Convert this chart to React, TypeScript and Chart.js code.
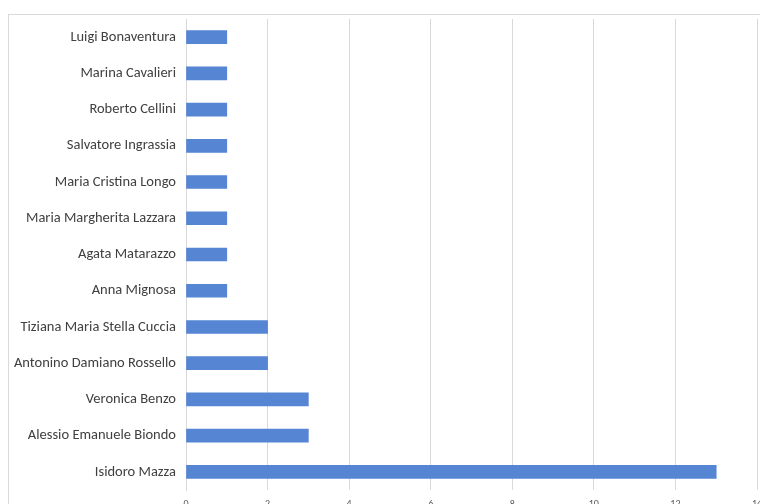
import React, { useEffect, useRef } from "react";
import { Chart, registerables } from "chart.js";

Chart.register(...registerables);

const names = [
  "Luigi Bonaventura",
  "Marina Cavalieri",
  "Roberto Cellini",
  "Salvatore Ingrassia",
  "Maria Cristina Longo",
  "Maria Margherita Lazzara",
  "Agata Matarazzo",
  "Anna Mignosa",
  "Tiziana Maria Stella Cuccia",
  "Antonino Damiano Rossello",
  "Veronica Benzo",
  "Alessio Emanuele Biondo",
  "Isidoro Mazza",
];
const counts = [1, 1, 1, 1, 1, 1, 1, 1, 2, 2, 3, 3, 13];
const xMin = 0;
const xMax = 14;
const xStep = 2;

export default function App() {
  const ref = useRef<HTMLCanvasElement | null>(null);
  useEffect(() => {
    if (!ref.current) return;
    const chart = new Chart(ref.current, {
      type: "bar",
      data: {
        labels: names,
        datasets: [
          {
            data: counts,
            backgroundColor: "#5585d3",
            borderWidth: 0,
            barThickness: 13,
          },
        ],
      },
      options: {
        indexAxis: "y",
        responsive: false,
        animation: false,
        layout: { padding: { top: 4, right: 12, left: 0, bottom: 0 } },
        plugins: { legend: { display: false }, tooltip: { enabled: false } },
        scales: {
          x: {
            min: xMin,
            max: xMax,
            ticks: {
              stepSize: xStep,
              color: "#595959",
              padding: 8,
              font: { family: "Carlito, Lato, sans-serif", size: 10 },
            },
            grid: { color: "#d9d9d9", drawTicks: false, lineWidth: 1 },
            border: { display: false },
            afterFit: (s: any) => {
              s.height = 45;
              s.paddingLeft = 0;
              s.paddingRight = 0;
            },
          },
          y: {
            ticks: {
              color: "#404040",
              padding: 10,
              font: { family: "Carlito, Lato, sans-serif", size: 14.5 },
            },
            grid: { display: false, drawTicks: false },
            border: { display: true, color: "#d9d9d9" },
            afterFit: (s: any) => {
              s.width = 177;
              s.paddingTop = 0;
              s.paddingBottom = 0;
            },
          },
        },
      },
    });
    return () => chart.destroy();
  }, []);
  return (
    <div
      style={{
        position: "fixed",
        left: 8,
        top: 14,
        width: 752,
        height: 490,
        borderTop: "1px solid #d9d9d9",
        borderLeft: "1px solid #d9d9d9",
        overflow: "hidden",
        boxSizing: "border-box",
        background: "#fff",
      }}
    >
      <canvas ref={ref} width={760} height={520} style={{ display: "block" }} />
    </div>
  );
}
